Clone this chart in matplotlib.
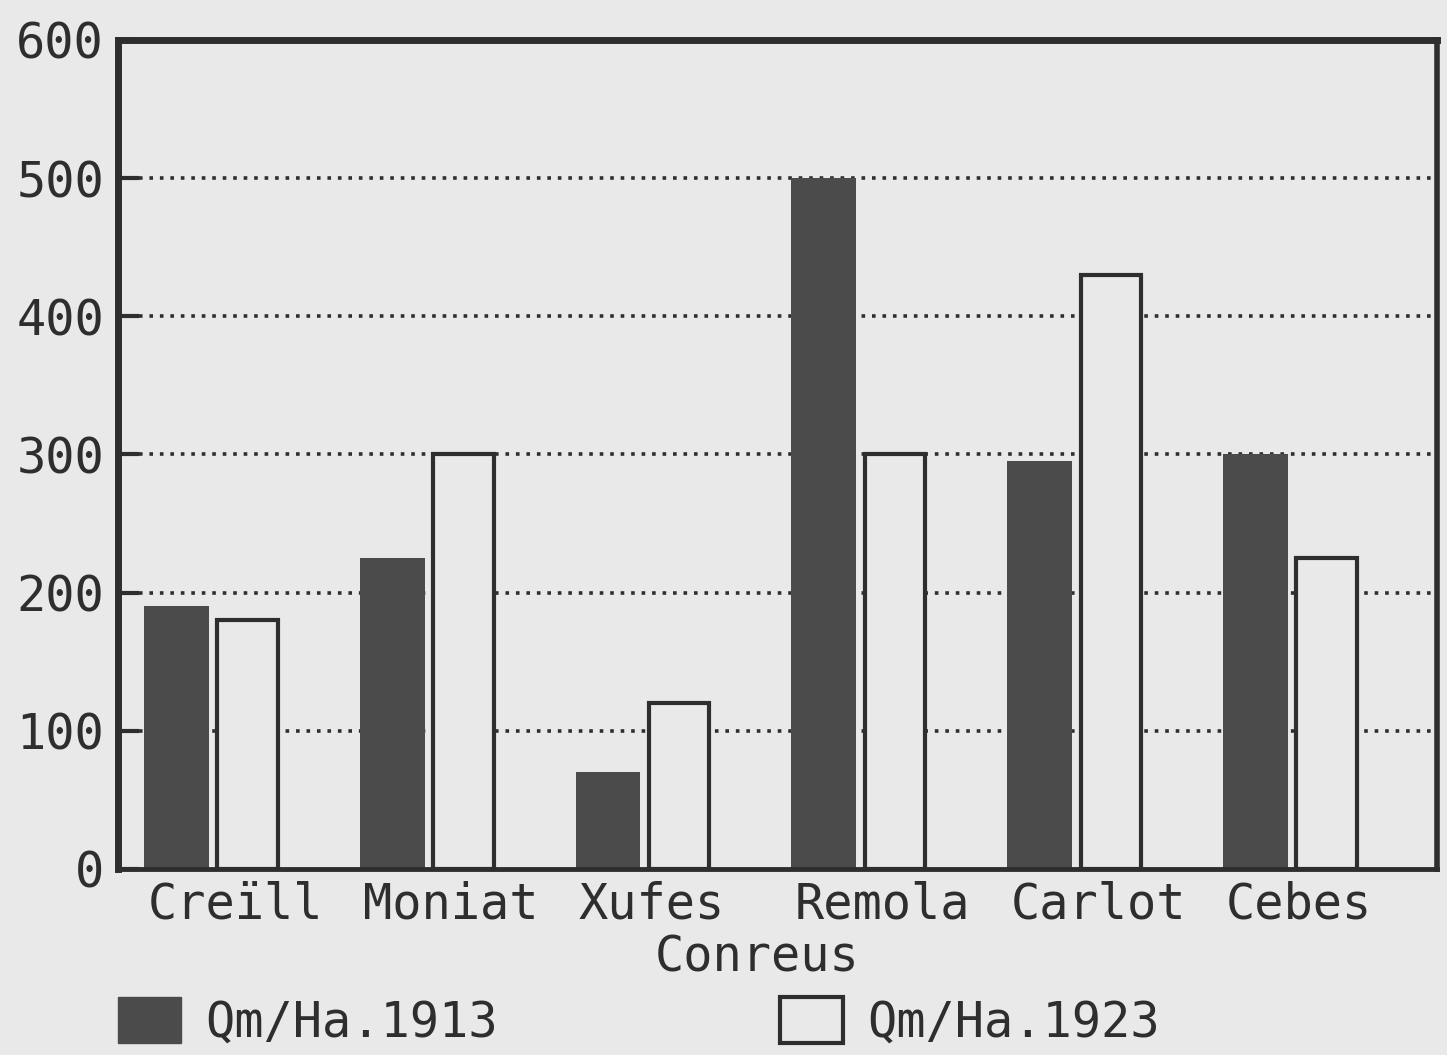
import numpy as np
import matplotlib
matplotlib.use("Agg")
import matplotlib.pyplot as plt
from matplotlib.patches import Patch

# data
conreus = ['Creïll', 'Moniat', 'Xufes', 'Remola', 'Carlot', 'Cebes']
qm_1913 = [190, 225, 70, 500, 295, 300]
qm_1923 = [180, 300, 120, 300, 430, 225]
y_ticks = [0, 100, 200, 300, 400, 500, 600]
y_labels = ['0', '100', '200', '300', '400', '500', '600']
label_1913 = 'Qm/Ha.1913'
label_1923 = 'Qm/Ha.1923'
x_title = 'Conreus'

bg = '#e9e9e9'
ink = '#2e2e2e'
dark = '#4b4b4b'
plt.rcParams['font.family'] = ['DejaVu Sans Mono']
fs = 35

fig = plt.figure(figsize=(14.47, 10.55), dpi=100, facecolor=bg)
ax = fig.add_axes([118 / 1447, 1 - 869 / 1055, 1319 / 1447, 829 / 1055])
ax.set_facecolor(bg)

x = np.arange(len(conreus))
w = 0.30
off = 0.165
ax.bar(x - off, qm_1913, width=w, color=dark, edgecolor=dark, linewidth=0, zorder=2)
ax.bar(x + off, qm_1923, width=w - 0.02, color=bg, edgecolor=ink, linewidth=3, zorder=2)

ax.set_xlim(-0.436, 5.677)
ax.set_ylim(0, 600)

# dotted grid behind the bars
ax.set_axisbelow(True)
ax.yaxis.grid(True, color=ink, linestyle=(0, (1, 1.9)), linewidth=2.6)
ax.set_yticks(y_ticks)
ax.set_yticklabels(y_labels, fontsize=fs, color=ink)
ax.tick_params(axis='y', direction='in', length=15, width=3, color=ink, pad=10)
gl = ax.get_ygridlines()
gl[0].set_visible(False)
gl[-1].set_visible(False)

# category labels start at the left edge of each dark bar
ax.set_xticks(x - off - w / 2 + 0.015)
ax.set_xticklabels(conreus, fontsize=fs, color=ink, ha='left')
ax.tick_params(axis='x', length=0, pad=8)

for side, lw in [('top', 5), ('left', 5), ('right', 4), ('bottom', 3.5)]:
    ax.spines[side].set_linewidth(lw)
    ax.spines[side].set_color(ink)

fig.text(757 / 1447, 1 - 958 / 1055, x_title, fontsize=fs, color=ink,
         ha='center', va='center')

handles = [Patch(facecolor=dark, edgecolor=dark, label=label_1913),
           Patch(facecolor=bg, edgecolor=ink, linewidth=3, label=label_1923)]
leg = fig.legend(handles=handles, ncol=2, loc='center left',
                 bbox_to_anchor=(118 / 1447, 1 - 1022 / 1055),
                 bbox_transform=fig.transFigure, frameon=False,
                 fontsize=fs, handlelength=1.3, handleheight=1.05,
                 handletextpad=0.5, columnspacing=5.8, borderpad=0,
                 borderaxespad=0)
for t in leg.get_texts():
    t.set_color(ink)

fig.savefig('out.png', dpi=100, facecolor=bg)
